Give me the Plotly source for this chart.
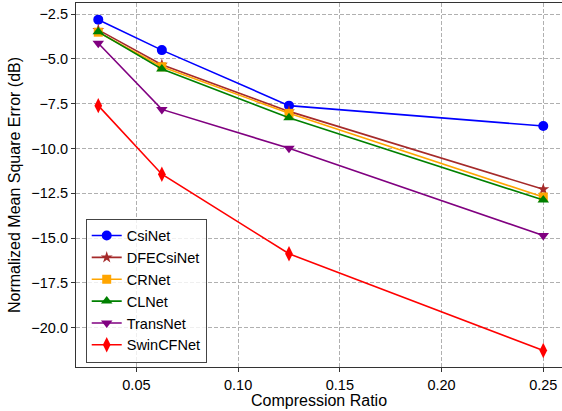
import plotly.graph_objects as go

cr = [1/32, 1/16, 1/8, 1/4]
csinet = [-2.81, -4.51, -7.61, -8.75]
dfecsinet = [-3.38, -5.33, -7.93, -12.28]
crnet = [-3.51, -5.44, -8.04, -12.71]
clnet = [-3.49, -5.56, -8.29, -12.88]
transnet = [-4.13, -7.82, -9.99, -14.86]
swincfnet = [-7.61, -11.44, -15.88, -21.28]

series = [
    ("CsiNet", csinet, "blue", "circle", 10),
    ("DFECsiNet", dfecsinet, "#a52a2a", "star", 9),
    ("CRNet", crnet, "orange", "square", 9),
    ("CLNet", clnet, "green", "triangle-up", 10),
    ("TransNet", transnet, "purple", "triangle-down", 10),
    ("SwinCFNet", swincfnet, "red", "diamond-tall", 11),
]

fig = go.Figure()
for name, vals, color, sym, sz in series:
    fig.add_trace(go.Scatter(
        x=cr, y=vals, name=name, mode="lines+markers",
        line=dict(color=color, width=1.6),
        marker=dict(symbol=sym, size=sz, color=color, line=dict(width=0)),
    ))

FAM = "Liberation Sans, Arial, sans-serif"
tick_font = dict(family=FAM, size=14.5, color="black")
title_font = dict(family=FAM, size=16, color="black")
fig.update_layout(
    width=562, height=411,
    margin=dict(l=76, r=0, t=3, b=44),
    paper_bgcolor="white", plot_bgcolor="white",
    font=tick_font,
    showlegend=True,
    legend=dict(
        x=0.02, y=0.012, xanchor="left", yanchor="bottom",
        bgcolor="rgba(255,255,255,0.8)", bordercolor="#444", borderwidth=1,
        font=dict(family=FAM, size=14.5, color="black"),
        tracegroupgap=0,
    ),
)
fig.update_xaxes(
    range=[0.0203, 0.2592], automargin=False,
    tickvals=[0.05, 0.10, 0.15, 0.20, 0.25],
    ticktext=["0.05", "0.10", "0.15", "0.20", "0.25"],
    tickfont=tick_font,
    showgrid=True, gridcolor="#b0b0b0", griddash="4px,2px", gridwidth=1,
    showline=True, linecolor="#333", linewidth=1.2, mirror=True,
    ticks="outside", ticklen=4, tickcolor="#333",
    zeroline=False,
    title=dict(text="Compression Ratio", font=title_font, standoff=2),
)
fig.update_yaxes(
    range=[-22.2, -1.88], automargin=False,
    tickvals=[-2.5, -5.0, -7.5, -10.0, -12.5, -15.0, -17.5, -20.0],
    ticktext=["\u22122.5", "\u22125.0", "\u22127.5", "\u221210.0", "\u221212.5", "\u221215.0", "\u221217.5", "\u221220.0"],
    tickfont=tick_font,
    showgrid=True, gridcolor="#b0b0b0", griddash="4px,2px", gridwidth=1,
    showline=True, linecolor="#333", linewidth=1.2, mirror=False,
    ticks="outside", ticklen=4, tickcolor="#333",
    zeroline=False,
    title=dict(text="Normalized Mean Square Error (dB)", font=title_font, standoff=6),
)

fig.write_html("out.html", config={"displayModeBar": False},
               post_script="document.body.style.margin='0';")
